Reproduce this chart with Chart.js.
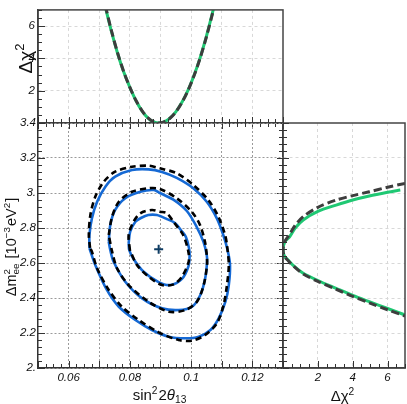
<!DOCTYPE html>
<html>
<head>
<meta charset="utf-8">
<script src="https://cdn.jsdelivr.net/npm/chart.js"></script>
<style>
  body { margin: 0; background: #fff; }
  #wrap { position: relative; width: 407px; height: 404px; }
  canvas { position: absolute; left: 0; top: 0; }
</style>
</head>
<body>
<div id="wrap">
  <canvas id="top" width="407" height="404"></canvas>
  <canvas id="right" width="407" height="404"></canvas>
  <canvas id="main" width="407" height="404"></canvas>
</div>
<script>
// ---- data ----
// main panel: sin^2 2theta13 (x) vs dm^2_ee (y), three contours each
var outerBlueX = [0.0668,0.0668,0.0676,0.0693,0.0720,0.0752,0.0807,0.0861,0.0905,0.0953,0.1007,0.1051,0.1084,0.1105,0.1119,0.1127,0.1123,0.1112,0.1090,0.1063,0.1025,0.0981,0.0927,0.0872,0.0818,0.0764,0.0725,0.0687,0.0668];
var outerBlueY = [2.684,2.760,2.855,2.950,3.036,3.093,3.131,3.135,3.120,3.086,3.027,2.950,2.855,2.760,2.674,2.589,2.474,2.379,2.284,2.217,2.179,2.170,2.179,2.217,2.274,2.350,2.446,2.589,2.684];
var outerDashX = [0.0670,0.0666,0.0671,0.0687,0.0715,0.0752,0.0807,0.0861,0.0898,0.0953,0.1007,0.1056,0.1089,0.1111,0.1117,0.1123,0.1117,0.1106,0.1084,0.1046,0.1003,0.0959,0.0894,0.0829,0.0774,0.0731,0.0693,0.0676,0.0670];
var outerDashY = [2.686,2.760,2.874,2.979,3.065,3.122,3.150,3.156,3.141,3.113,3.046,2.960,2.865,2.760,2.703,2.589,2.474,2.360,2.255,2.189,2.156,2.160,2.204,2.274,2.350,2.446,2.570,2.665,2.686];
var midBlueX = [0.0731,0.0736,0.0752,0.0785,0.0834,0.0878,0.0898,0.0942,0.0986,0.1018,0.1040,0.1051,0.1052,0.1046,0.1030,0.1003,0.0959,0.0905,0.0840,0.0785,0.0747,0.0736,0.0731];
var midBlueY = [2.722,2.817,2.903,2.970,3.007,3.017,3.000,2.962,2.897,2.807,2.722,2.646,2.607,2.513,2.417,2.350,2.331,2.341,2.398,2.493,2.607,2.674,2.722];
var midDashX = [0.0731,0.0742,0.0764,0.0807,0.0861,0.0898,0.0953,0.1002,0.1029,0.1045,0.1051,0.1052,0.1041,0.1019,0.0981,0.0927,0.0861,0.0796,0.0758,0.0742,0.0731];
var midDashY = [2.760,2.865,2.950,3.007,3.027,3.023,2.970,2.893,2.817,2.722,2.646,2.589,2.474,2.379,2.331,2.322,2.379,2.474,2.570,2.665,2.760];
var innerBlueX = [0.0796,0.0801,0.0818,0.0836,0.0860,0.0888,0.0921,0.0947,0.0969,0.0983,0.0993,0.0995,0.0991,0.0970,0.0932,0.0894,0.0845,0.0812,0.0798,0.0796];
var innerBlueY = [2.713,2.779,2.836,2.857,2.874,2.874,2.851,2.829,2.783,2.749,2.686,2.640,2.579,2.509,2.474,2.491,2.550,2.623,2.674,2.713];
var innerDashX = [0.0800,0.0796,0.0812,0.0834,0.0872,0.0898,0.0921,0.0942,0.0974,0.0991,0.0992,0.0970,0.0943,0.0905,0.0861,0.0823,0.0800];
var innerDashY = [2.674,2.760,2.836,2.884,2.903,2.893,2.884,2.836,2.760,2.665,2.607,2.522,2.478,2.474,2.522,2.589,2.674];
var bestSin = 0.0894;
var bestDm = 2.678;

// top panel: delta chi2 vs sin^2 2theta13
var topSin   = [0.0720,0.0740,0.0760,0.0780,0.0800,0.0820,0.0840,0.0860,0.0880,0.0894,0.0910,0.0930,0.0950,0.0970,0.0990,0.1010,0.1030,0.1050,0.1070,0.1080];
var topGreen = [7.17,5.65,4.30,3.15,2.20,1.38,0.74,0.29,0.05,0.00,0.06,0.29,0.69,1.28,2.03,2.97,4.08,5.37,6.84,7.64];
var topDash  = [7.25,5.70,4.33,3.17,2.21,1.39,0.75,0.30,0.05,0.00,0.06,0.28,0.68,1.27,2.02,2.95,4.05,5.33,6.78,7.58];

// right panel: delta chi2 (x) vs dm^2_ee (y)
var rightGreenChi = [6.73,6.00,4.95,4.00,3.05,2.00,1.16,0.70,0.38,0.10,0.00,0.08,0.29,0.60,1.16,2.00,3.05,4.00,4.95,6.00,7.00];
var rightGreenDm  = [3.017,3.004,2.983,2.960,2.931,2.895,2.846,2.800,2.750,2.720,2.676,2.640,2.617,2.585,2.541,2.500,2.455,2.415,2.379,2.340,2.303];
var rightDashChi  = [7.00,6.00,4.95,4.00,3.05,2.00,1.16,0.70,0.38,0.10,0.00,0.08,0.29,0.60,1.16,2.00,3.05,4.00,4.95,6.00,7.00];
var rightDashDm   = [3.055,3.033,3.007,2.985,2.960,2.918,2.865,2.815,2.765,2.722,2.676,2.638,2.614,2.582,2.537,2.495,2.450,2.409,2.372,2.333,2.297];

// axes / tick labels
var sinGrid = [0.06,0.07,0.08,0.09,0.10,0.11,0.12];
var sinTickValues = [0.06,0.08,0.10,0.12];
var sinTickLabels = ["0.06","0.08","0.1","0.12"];
var dmGrid = [2.0,2.2,2.4,2.6,2.8,3.0,3.2,3.4];
var dmTickLabels = ["2.","2.2","2.4","2.6","2.8","3.","3.2","3.4"];
var chiGrid = [2,4,6];
var chiTickLabels = ["2","4","6"];

// ---- helpers ----
var BLUE = "#1569d4";
var GREEN = "#1fc873";
var FONT = "'Liberation Sans', Arial, sans-serif";
var tickFont = { family: FONT, size: 11.5, style: "italic" };

function pts(xs, ys) {
  return xs.map(function (x, i) { return { x: x, y: ys[i] }; });
}
function labelFor(v, vals, labels) {
  var i = vals.findIndex(function (t) { return Math.abs(t - v) < 1e-9; });
  return i < 0 ? "" : labels[i];
}
function fixTicks(vals) {
  return function (s) { s.ticks = vals.map(function (v) { return { value: v }; }); };
}

// root style tick marks, drawn with the chart's own scales
function drawRootTicks(chart, specs) {
  var ctx = chart.ctx;
  ctx.save();
  ctx.strokeStyle = "#333";
  ctx.lineWidth = 1;
  specs.forEach(function (sp) {
    var sc = chart.scales[sp.scale];
    var n = Math.round((sp.to - sp.from) / sp.minor);
    for (var i = 0; i <= n; i++) {
      var v = sp.from + i * sp.minor;
      var r = v / sp.major;
      var big = Math.abs(r - Math.round(r)) < 1e-6;
      var len = big ? sp.big : sp.small;
      var p = Math.round(sc.getPixelForValue(v)) + 0.5;
      ctx.beginPath();
      if (sp.edge === "bottom") {
        var y0 = chart.chartArea.bottom;
        ctx.moveTo(p, y0 + len[1]); ctx.lineTo(p, y0 - len[0]);
      } else {
        var x0 = chart.chartArea.left;
        ctx.moveTo(x0 - len[1], p); ctx.lineTo(x0 + len[0], p);
      }
      ctx.stroke();
    }
  });
  ctx.restore();
}

// text with super/subscripts
function richRun(ctx, parts, size, x0, y0, draw) {
  var x = x0;
  parts.forEach(function (p) {
    if (p.t === undefined) {
      var small = size * 0.68;
      ctx.font = small + "px " + FONT;
      var w1 = p.sup ? ctx.measureText(p.sup).width : 0;
      var w2 = p.sub ? ctx.measureText(p.sub).width : 0;
      if (draw) {
        if (p.sup) ctx.fillText(p.sup, x, y0 - size * 0.42);
        if (p.sub) ctx.fillText(p.sub, x, y0 + size * 0.2);
      }
      x += Math.max(w1, w2) + 1;
    } else {
      ctx.font = (p.it ? "italic " : "") + size + "px " + FONT;
      if (draw) ctx.fillText(p.t, x, y0);
      x += ctx.measureText(p.t).width;
    }
  });
  return x - x0;
}
function drawTitle(ctx, parts, size, cx, cy, rotate) {
  ctx.save();
  ctx.fillStyle = "#111";
  ctx.textBaseline = "alphabetic";
  ctx.textAlign = "left";
  ctx.translate(cx, cy);
  if (rotate) ctx.rotate(-Math.PI / 2);
  var w = richRun(ctx, parts, size, 0, 0, false);
  richRun(ctx, parts, size, -w / 2, size * 0.36, true);
  ctx.restore();
}

var framePlugin = {
  id: "frame",
  afterDraw: function (chart) {
    var a = chart.chartArea, ctx = chart.ctx;
    ctx.save();
    ctx.strokeStyle = "#444";
    ctx.lineWidth = 1.5;
    ctx.strokeRect(a.left, a.top, a.right - a.left, a.bottom - a.top);
    ctx.restore();
  }
};

var common = {
  responsive: false,
  animation: false,
  devicePixelRatio: 1,
  events: [],
  plugins: { legend: { display: false }, tooltip: { enabled: false } }
};

// ---- main panel ----
new Chart(document.getElementById("main"), {
  type: "scatter",
  data: {
    datasets: [
      { data: [{ x: bestSin, y: bestDm }], pointStyle: "cross", pointRadius: 4.5, borderColor: "#0e3c63", borderWidth: 2, showLine: false },
      { data: pts(outerDashX, outerDashY), showLine: true, borderColor: "#000", borderWidth: 2.6, borderDash: [6, 4], pointRadius: 0, tension: 0.3 },
      { data: pts(midDashX, midDashY), showLine: true, borderColor: "#000", borderWidth: 2.6, borderDash: [6, 4], pointRadius: 0, tension: 0.3 },
      { data: pts(innerDashX, innerDashY), showLine: true, borderColor: "#000", borderWidth: 2.6, borderDash: [6, 4], pointRadius: 0, tension: 0.3 },
      { data: pts(outerBlueX, outerBlueY), showLine: true, borderColor: BLUE, borderWidth: 2.6, pointRadius: 0, tension: 0.3 },
      { data: pts(midBlueX, midBlueY), showLine: true, borderColor: BLUE, borderWidth: 2.6, pointRadius: 0, tension: 0.3 },
      { data: pts(innerBlueX, innerBlueY), showLine: true, borderColor: BLUE, borderWidth: 2.6, pointRadius: 0, tension: 0.3 }
    ]
  },
  options: Object.assign({}, common, {
    layout: { padding: { left: 0, top: 123, right: 124, bottom: 0 } },
    scales: {
      x: {
        min: 0.05, max: 0.13,
        afterBuildTicks: fixTicks(sinGrid),
        afterFit: function (s) { s.height = 36; },
        ticks: { font: tickFont, color: "#111", padding: 3, maxRotation: 0, autoSkip: false,
                 callback: function (v) { return labelFor(v, sinTickValues, sinTickLabels); } },
        grid: { color: "#9a9a9a", lineWidth: 1, drawTicks: false },
        border: { color: "#333", width: 1.5, dash: [2, 2] }
      },
      y: {
        min: 2.0, max: 3.4,
        afterBuildTicks: fixTicks(dmGrid),
        afterFit: function (s) { s.width = 38; },
        ticks: { font: tickFont, color: "#111", padding: 2, autoSkip: false,
                 callback: function (v) { return labelFor(v, dmGrid, dmTickLabels); } },
        grid: { color: "#9a9a9a", lineWidth: 1, drawTicks: false },
        border: { color: "#333", width: 1.5, dash: [2, 2] }
      }
    }
  }),
  plugins: [{
    id: "mainDeco",
    afterDraw: function (chart) {
      drawRootTicks(chart, [
        { scale: "x", edge: "bottom", from: 0.05, to: 0.13, major: 0.01, minor: 0.0025, big: [7, 0], small: [4, 0] },
        { scale: "y", edge: "left", from: 2.0, to: 3.4, major: 0.2, minor: 0.04, big: [7, 0], small: [4, 0] }
      ]);
      var ctx = chart.ctx;
      drawTitle(ctx, [{ t: "sin" }, { sup: "2" }, { t: "2" }, { t: "θ", it: true }, { sub: "13" }], 15, 160, 395, false);
      drawTitle(ctx, [{ t: "Δm" }, { sup: "2", sub: "ee" }, { t: " [10" }, { sup: "−3" }, { t: "eV" }, { sup: "2" }, { t: "]" }], 14.5, 11, 247, true);
    }
  }]
});

// ---- top panel ----
new Chart(document.getElementById("top"), {
  type: "scatter",
  data: {
    datasets: [
      { data: pts(topSin, topDash), showLine: true, borderColor: "#3d3d3d", borderWidth: 3, borderDash: [8, 4], pointRadius: 0, tension: 0.3 },
      { data: pts(topSin, topGreen), showLine: true, borderColor: GREEN, borderWidth: 3, pointRadius: 0, tension: 0.3 }
    ]
  },
  options: Object.assign({}, common, {
    layout: { padding: { left: 0, top: 1, right: 124, bottom: 0 } },
    scales: {
      x: {
        min: 0.05, max: 0.13,
        afterBuildTicks: fixTicks(sinGrid),
        afterFit: function (s) { s.height = 281; },
        ticks: { display: false },
        grid: { color: "#d8d8d8", lineWidth: 1, drawTicks: false },
        border: { color: "#333", width: 1.5, dash: [3, 3] }
      },
      y: {
        min: 0, max: 7,
        afterBuildTicks: fixTicks(chiGrid),
        afterFit: function (s) { s.width = 38; },
        ticks: { font: tickFont, color: "#111", padding: 3, autoSkip: false,
                 callback: function (v) { return labelFor(v, chiGrid, chiTickLabels); } },
        grid: { color: "#d8d8d8", lineWidth: 1, drawTicks: false },
        border: { color: "#333", width: 1.5, dash: [3, 3] }
      }
    }
  }),
  plugins: [framePlugin, {
    id: "topDeco",
    afterDraw: function (chart) {
      drawRootTicks(chart, [
        { scale: "x", edge: "bottom", from: 0.05, to: 0.13, major: 0.01, minor: 0.0025, big: [6, 6], small: [4, 4] },
        { scale: "y", edge: "left", from: 0, to: 7, major: 2, minor: 0.5, big: [7, 0], small: [4, 0] }
      ]);
      drawTitle(chart.ctx, [{ t: "Δχ" }, { sup: "2" }], 19, 25, 58, true);
    }
  }]
});

// ---- right panel ----
new Chart(document.getElementById("right"), {
  type: "scatter",
  data: {
    datasets: [
      { data: pts(rightDashChi, rightDashDm), showLine: true, borderColor: "#3d3d3d", borderWidth: 3, borderDash: [8, 4], pointRadius: 0, tension: 0.3 },
      { data: pts(rightGreenChi, rightGreenDm), showLine: true, borderColor: GREEN, borderWidth: 3, pointRadius: 0, tension: 0.3 }
    ]
  },
  options: Object.assign({}, common, {
    layout: { padding: { left: 0, top: 123, right: 2, bottom: 0 } },
    scales: {
      x: {
        min: 0, max: 7,
        afterBuildTicks: fixTicks(chiGrid),
        afterFit: function (s) { s.height = 36; },
        ticks: { font: tickFont, color: "#111", padding: 3, maxRotation: 0, autoSkip: false,
                 callback: function (v) { return labelFor(v, chiGrid, chiTickLabels); } },
        grid: { color: "#d8d8d8", lineWidth: 1, drawTicks: false },
        border: { color: "#333", width: 1.5, dash: [3, 3] }
      },
      y: {
        min: 2.0, max: 3.4,
        afterBuildTicks: fixTicks(dmGrid.slice(1, 7)),
        afterFit: function (s) { s.width = 283; },
        ticks: { display: false },
        grid: { color: "#d8d8d8", lineWidth: 1, drawTicks: false },
        border: { color: "#333", width: 1.5, dash: [3, 3] }
      }
    }
  }),
  plugins: [framePlugin, {
    id: "rightDeco",
    afterDraw: function (chart) {
      drawRootTicks(chart, [
        { scale: "y", edge: "left", from: 2.0, to: 3.4, major: 0.2, minor: 0.04, big: [6, 6], small: [4, 4] },
        { scale: "x", edge: "bottom", from: 0, to: 7, major: 2, minor: 0.5, big: [7, 0], small: [4, 0] }
      ]);
      drawTitle(chart.ctx, [{ t: "Δχ" }, { sup: "2" }], 15, 343, 396, false);
    }
  }]
});
</script>
</body>
</html>
